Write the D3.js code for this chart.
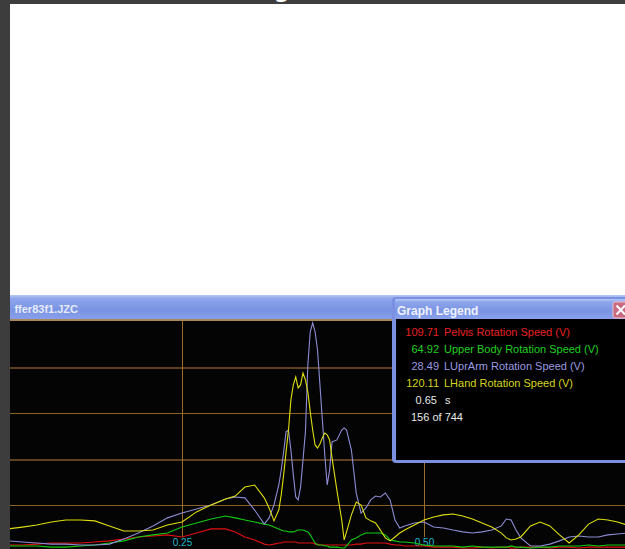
<!DOCTYPE html>
<html>
<meta charset="utf-8">
<style>
  body { margin: 0; background: #3d3d3d; }
  svg { display: block; }
  .grid path, .xaxis path { display: none; }
  .grid line, .xaxis line { shape-rendering: crispEdges; }
  .xaxis line { stroke: #9c6c2a; }
  .xaxis text { fill: #22b8c8; font-family: "Liberation Sans", Arial, sans-serif; font-size: 10px; }
</style>
<body>
<svg width="625" height="549"></svg>
<script src="https://d3js.org/d3.v7.min.js"></script>
<script>

  // sample times (s)
  var times = [0.070, 0.085, 0.100, 0.115, 0.130, 0.145, 0.160, 0.175, 0.190, 0.205, 0.220, 0.235, 0.250, 0.265, 0.280, 0.295,
    0.305, 0.315, 0.325, 0.335, 0.340, 0.345,
    0.350, 0.3525, 0.355, 0.3575, 0.360, 0.3625, 0.365, 0.3675, 0.370, 0.3725, 0.375, 0.3775, 0.380, 0.3825, 0.385, 0.3875,
    0.390, 0.3925, 0.395, 0.3975, 0.400, 0.4025, 0.405, 0.410, 0.415, 0.4175,
    0.420, 0.425, 0.430, 0.435, 0.440, 0.445, 0.450, 0.455, 0.460, 0.465, 0.470, 0.475, 0.480,
    0.490, 0.500, 0.510, 0.520, 0.530, 0.540, 0.550, 0.560, 0.570, 0.580, 0.585, 0.590, 0.595, 0.600,
    0.610, 0.620, 0.630, 0.640, 0.650, 0.660, 0.670, 0.680, 0.690, 0.700, 0.710];

  // rotation speeds (deg/s)
  var pelvis = [26, 26, 30, 35, 35, 35, 39, 44, 52, 61, 65, 70, 61, 78, 96, 96, 83, 61, 48, 30,
    26, 30, 35, 35, 39, 39, 39, 39, 39, 39, 35, 35, 35, 35, 35, 35, 35, 30, 30, 26,
    26, 26, 26, 26, 26, 26, 26, 26, 26, 26, 30, 30, 35, 35, 35, 35, 35, 30, 26, 26,
    22, 22, 22, 17, 17, 17, 13, 13, 17, 13, 17, 17, 13, 13, 17, 17, 17, 13, 17, 17,
    13, 17, 17, 17, 17, 17];
  var upperBody = [22, 22, 22, 17, 17, 22, 26, 35, 44, 61, 70, 78, 104, 122, 139, 152, 144, 135, 126, 117,
    113, 104, 96, 91, 87, 87, 83, 83, 83, 87, 91, 91, 91, 87, 83, 70, 52, 35, 26, 26,
    26, 22, 22, 17, 17, 17, 13, 13, 22, 48, 57, 70, 78, 78, 78, 78, 70, 48, 44, 39,
    39, 35, 26, 22, 22, 22, 17, 22, 17, 17, 17, 17, 22, 17, 17, 13, 17, 17, 22, 22,
    22, 26, 22, 26, 26, 26];
  var lUprArm = [44, 39, 35, 30, 30, 26, 26, 30, 52, 78, 109, 144, 165, 183, 200, 226, 235, 231, 178, 117,
    144, 200, 287, 352, 431, 518, 526, 439, 331, 235, 222, 278, 396, 518, 809, 953, 992, 953, 874, 722,
    570, 418, 287, 352, 474, 483, 526, 535, 526, 439, 252, 165, 187, 222, 239, 235, 252, 222, 135, 100,
    109, 122, 126, 104, 100, 91, 83, 78, 83, 91, 109, 139, 135, 91, 57, 22, 22, 30, 44, 61,
    65, 61, 61, 70, 74, 78];
  var lHand = [96, 104, 113, 126, 135, 135, 131, 109, 87, 87, 91, 113, 126, 170, 200, 226, 239, 278, 287, 231,
    187, 131, 178, 244, 331, 431, 526, 657, 722, 757, 709, 722, 774, 744, 692, 605, 526, 461, 448, 465,
    492, 513, 505, 483, 405, 265, 135, 48, 83, 157, 213, 200, 144, 131, 122, 91, 57, 44, 61, 78,
    91, 113, 135, 148, 157, 161, 152, 139, 122, 104, 78, 57, 48, 52, 61, 109, 126, 109, 70, 35,
    70, 117, 139, 135, 126, 113];

  var seriesNames = ["Pelvis Rotation Speed (V)", "Upper Body Rotation Speed (V)", "LUprArm Rotation Speed (V)", "LHand Rotation Speed (V)"];
  var legendValues = ["109.71", "64.92", "28.49", "120.11"];
  var xTicks = [0.25, 0.5];
  var yGrid = [200, 400, 600, 800];

  var colors = ["#e01010", "#10cc10", "#8c8cd4", "#dede10"];
  var textColors = ["#e82020", "#20d020", "#9a9ae0", "#d4d420"];
  var font = '"Liberation Sans", Arial, sans-serif';

  var svg = d3.select("svg");

  var defs = svg.append("defs");
  var bar = defs.append("linearGradient").attr("id", "bar")
    .attr("x1", 0).attr("y1", 0).attr("x2", 0).attr("y2", 1);
  bar.append("stop").attr("offset", 0).attr("stop-color", "#b6c8f6");
  bar.append("stop").attr("offset", 0.15).attr("stop-color", "#8ea6ec");
  bar.append("stop").attr("offset", 0.6).attr("stop-color", "#7a93e2");
  bar.append("stop").attr("offset", 1).attr("stop-color", "#8aa2ec");
  defs.append("clipPath").attr("id", "plot")
    .append("rect").attr("x", 10).attr("y", 321).attr("width", 615).attr("height", 228);

  // white page behind the window
  svg.append("rect").attr("x", 10).attr("y", 4).attr("width", 615).attr("height", 292).attr("fill", "#fff");
  svg.append("text").attr("x", 274).attr("y", -2)
    .attr("font-family", "DejaVu Sans").attr("font-weight", "bold").attr("font-size", 22)
    .attr("fill", "#fff").text("g");

  // graph window title bar
  svg.append("rect").attr("x", 10).attr("y", 295).attr("width", 615).attr("height", 25).attr("fill", "url(#bar)");
  svg.append("text").attr("x", 78).attr("y", 313).attr("text-anchor", "end")
    .attr("font-family", font).attr("font-weight", "bold").attr("font-size", 11)
    .attr("fill", "#e6ecfb").text("ffer83f1.JZC");
  svg.append("rect").attr("x", 10).attr("y", 319).attr("width", 615).attr("height", 2).attr("fill", "#a8895a");
  svg.append("rect").attr("x", 10).attr("y", 321).attr("width", 615).attr("height", 228).attr("fill", "#040404");

  var x = d3.scaleLinear().domain([0.25, 0.5]).range([182, 424]);
  var y = d3.scaleLinear().domain([0, 1000]).range([551, 321]);

  // alternating thick / thin gridlines
  var grid = svg.append("g").attr("class", "grid")
    .attr("transform", "translate(10,0)")
    .call(d3.axisLeft(y).tickValues(yGrid).tickSize(-615).tickFormat(""));
  grid.selectAll(".tick line")
    .attr("stroke", function (d, i) { return i % 2 ? "#5e4220" : "#8a6226"; })
    .attr("stroke-width", function (d, i) { return i % 2 ? 2 : 1; });

  svg.append("g").attr("class", "xaxis")
    .attr("transform", "translate(0,537)")
    .call(d3.axisBottom(x).tickValues(xTicks).tickSize(-216).tickPadding(2).tickFormat(d3.format(".2f")));

  var line = d3.line()
    .x(function (d, i) { return x(times[i]); })
    .y(function (d) { return y(d); });

  svg.append("g").attr("clip-path", "url(#plot)")
    .selectAll("path")
    .data([pelvis, upperBody, lUprArm, lHand])
    .enter().append("path")
    .attr("d", line)
    .attr("fill", "none")
    .attr("stroke", function (d, i) { return colors[i]; })
    .attr("stroke-width", 1.1);

  // legend window
  var lg = svg.append("g");
  lg.append("rect").attr("x", 392).attr("y", 297).attr("width", 245).attr("height", 166).attr("rx", 4).attr("fill", "#7b90e0");
  lg.append("rect").attr("x", 395).attr("y", 299).attr("width", 240).attr("height", 20).attr("fill", "url(#bar)");
  lg.append("rect").attr("x", 396).attr("y", 319).attr("width", 240).attr("height", 141).attr("fill", "#000");
  lg.append("text").attr("x", 397).attr("y", 315)
    .attr("font-family", font).attr("font-weight", "bold").attr("font-size", 12)
    .attr("fill", "#eef2fd").text("Graph Legend");
  lg.append("rect").attr("x", 613).attr("y", 302).attr("width", 16).attr("height", 16).attr("rx", 2)
    .attr("fill", "#c96a82").attr("stroke", "#ecc0cc");
  lg.append("path").attr("d", "M616.5,305.5L625,314.5M625,305.5L616.5,314.5")
    .attr("stroke", "#fff").attr("stroke-width", 2);

  var rows = lg.selectAll(".row")
    .data(seriesNames)
    .enter().append("g")
    .attr("font-family", font).attr("font-size", 11)
    .attr("fill", function (d, i) { return textColors[i]; })
    .attr("transform", function (d, i) { return "translate(0," + (336 + i * 17) + ")"; });
  rows.append("text").attr("x", 439).attr("text-anchor", "end")
    .text(function (d, i) { return legendValues[i]; });
  rows.append("text").attr("x", 444).text(function (d) { return d; });

  lg.append("text").attr("x", 437).attr("y", 404).attr("text-anchor", "end")
    .attr("font-family", font).attr("font-size", 11).attr("fill", "#e8e8e8").text("0.65");
  lg.append("text").attr("x", 445).attr("y", 404)
    .attr("font-family", font).attr("font-size", 11).attr("fill", "#e8e8e8").text("s");
  lg.append("text").attr("x", 411).attr("y", 421)
    .attr("font-family", font).attr("font-size", 11).attr("fill", "#e8e8e8").text("156 of 744");

</script>
</body>
</html>
